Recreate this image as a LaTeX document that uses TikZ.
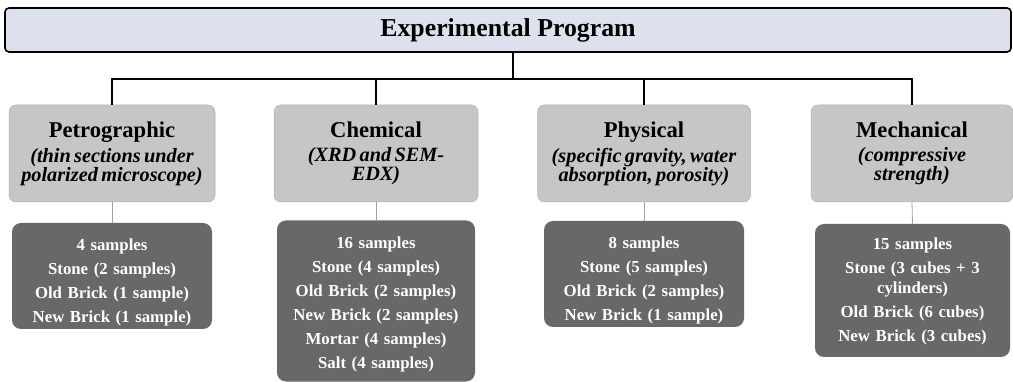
\documentclass[tikz,border=0pt]{standalone}
\usepackage{fontspec}
\setmainfont{Liberation Serif}
\definecolor{topfill}{RGB}{221,224,237}
\definecolor{catfill}{RGB}{198,198,198}
\definecolor{catline}{RGB}{178,178,178}
\definecolor{smpfill}{RGB}{104,104,104}
\definecolor{thinline}{RGB}{160,160,160}
\tikzset{
  topbox/.style={draw=black, line width=1.6pt, fill=topfill, rounded corners=4pt, minimum width=1006pt, minimum height=44pt, inner sep=0pt, font=\fontsize{25.8}{28}\selectfont\bfseries},
  catbox/.style={draw=catline, line width=0.5pt, fill=catfill, rounded corners=7pt, minimum height=97pt, inner sep=0pt, align=center, text width=200pt},
  smpbox/.style={fill=smpfill, rounded corners=9pt, inner sep=0pt, align=center, text width=190pt, text=white, font=\fontsize{16.8}{20}\selectfont\bfseries},
  busline/.style={draw=black, line width=1.6pt},
  thinline/.style={draw=thinline, line width=0.8pt},
}
\newcommand{\cattitle}[1]{{\fontsize{22.6}{26}\selectfont\bfseries #1\par}\vspace{5pt}}
\newcommand{\catsub}[1]{{\fontsize{20.3}{19}\selectfont\bfseries\itshape #1\par}}
\newcommand{\lift}[1]{\rule{0pt}{#1}}
\begin{document}
\begin{tikzpicture}[x=1pt,y=-1pt]
\useasboundingbox (0,0) rectangle (1013,382);
\fill[white] (0,0) rectangle (1013,382);

\node[topbox] (top) at (508,30) {Experimental Program};

\node[catbox, minimum width=206pt] (pet) at (112,153.5) {\cattitle{Petrographic}\catsub{(thin sections under\\polarized microscope)}};
\node[catbox, minimum width=204pt] (che) at (376,153.5) {\cattitle{Chemical}\catsub{(XRD and SEM-\\EDX)}};
\node[catbox, minimum width=213pt] (phy) at (644,153.5) {\cattitle{Physical}\catsub{(specific gravity, water\\absorption, porosity)}};
\node[catbox, minimum width=202pt] (mec) at (912,153.5) {\cattitle{Mechanical}\catsub{(compressive\\strength)}};

\node[smpbox, minimum width=200pt, minimum height=106pt] (pets) at (112,276) {\lift{24pt}4 samples\\[4pt]Stone (2 samples)\\[4pt]Old Brick (1 sample)\\[4pt]New Brick (1 sample)};
\node[smpbox, minimum width=198pt, minimum height=161pt] (ches) at (376,301) {\lift{19pt}16 samples\\[4pt]Stone (4 samples)\\[4pt]Old Brick (2 samples)\\[4pt]New Brick (2 samples)\\[4pt]Mortar (4 samples)\\[4pt]Salt (4 samples)};
\node[smpbox, minimum width=200pt, minimum height=106pt] (phys) at (644,274) {\lift{24pt}8 samples\\[4pt]Stone (5 samples)\\[4pt]Old Brick (2 samples)\\[4pt]New Brick (1 sample)};
\node[smpbox, minimum width=195pt, minimum height=133pt] (mecs) at (912.5,290.5) {\lift{13pt}15 samples\\[4pt]Stone (3 cubes + 3\\cylinders)\\[4pt]Old Brick (6 cubes)\\[4pt]New Brick (3 cubes)};

\coordinate (busc) at (513,79);
\draw[busline] (busc |- top.south) -- (busc);
\draw[busline] (busc) -| (pet.north);
\draw[busline] (busc) -| (che.north);
\draw[busline] (busc) -| (phy.north);
\draw[busline] (busc) -| (mec.north);

\draw[thinline] (pet.south) -- (pets.north);
\draw[thinline] (che.south) -- (ches.north);
\draw[thinline] (phy.south) -- (phys.north);
\draw[thinline] (mec.south) -- (mecs.north);
\end{tikzpicture}
\end{document}
